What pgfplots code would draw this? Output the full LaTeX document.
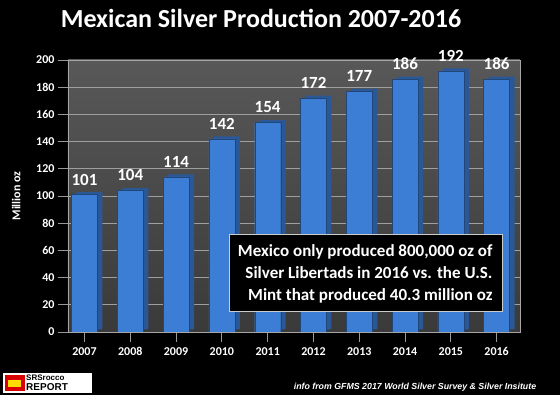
\documentclass[border=0pt]{standalone}
\usepackage{pgfplots}
\pgfplotsset{compat=1.18}
\usepackage{fontspec}
\setmainfont{Carlito}
\newfontfamily\arialfont{Liberation Sans}
\definecolor{barfront}{HTML}{3C7DD6}
\definecolor{barside}{HTML}{2A5896}
\definecolor{walltop}{HTML}{585858}
\definecolor{wallbot}{HTML}{3A3A3A}
\begin{document}
\begin{tikzpicture}[x=1pt,y=1pt]
\fill[black] (-68,-63) rectangle (492,332);
\begin{axis}[
  at={(0,0)}, anchor=south west,
  scale only axis,
  width=452pt, height=272pt,
  xmin=-0.36, xmax=9.51,
  ymin=0, ymax=200,
  ytick={0,20,...,200},
  xtick={0,...,9},
  xticklabels={2007,2008,2009,2010,2011,2012,2013,2014,2015,2016},
  /pgf/number format/assume math mode=true,
  axis background/.style={top color=walltop, bottom color=wallbot},
  axis line style={gray!70},
  tick style={gray!80, line width=0.8pt},
  major tick length=10pt,
  tick align=outside,
  ytick pos=left, xtick pos=bottom,
  ymajorgrids, grid style={gray!75, line width=0.9pt},
  ticklabel style={white, font=\bfseries\fontsize{12}{13}\selectfont},
  xticklabel style={anchor=north, yshift=-2pt},
  ylabel={Million oz},
  ylabel style={white, font=\bfseries\fontsize{12}{13}\selectfont, yshift=9pt},
  ybar, bar width=26pt,
]
\addplot[draw=none, fill=barside, bar shift=5pt, yshift=2.5pt] coordinates {
(0,101) (1,104) (2,114) (3,142) (4,154) (5,172) (6,177) (7,186) (8,192) (9,186)};
\addplot[draw=barside!80!black, line width=0.3pt, fill=barfront, bar shift=0pt,
  nodes near coords,
  every node near coord/.append style={white, font=\bfseries\fontsize{17}{18}\selectfont, yshift=6pt}] coordinates {
(0,101) (1,104) (2,114) (3,142) (4,154) (5,172) (6,177) (7,186) (8,192) (9,186)};
\end{axis}
% title
\node[white, font=\bfseries\fontsize{26}{28}\selectfont] at (193,314) {Mexican Silver Production 2007-2016};
% annotation box
\draw[fill=black, draw=gray!40, line width=1pt] (161,20) rectangle (434,97);
\node[white, anchor=east, align=right, font=\bfseries\fontsize{17}{22}\selectfont] at (428,58.5)
  {Mexico only produced 800,000 oz of\\Silver Libertads in 2016 vs. the U.S.\\Mint that produced 40.3 million oz};
% footer
\node[white, font=\arialfont\bfseries\itshape\fontsize{8.8}{10}\selectfont] at (347,-55) {info from GFMS 2017 World Silver Survey \& Silver Insitute};
% logo
\fill[white] (-65,-61) rectangle (24,-41);
\fill[red!85!black] (-63,-59) rectangle (-43,-43);
\fill[yellow!80!orange] (-60,-55) rectangle (-47,-48);
\node[anchor=west, inner sep=0pt, font=\arialfont\bfseries\fontsize{8}{8}\selectfont] at (-42,-46) {SRSrocco};
\node[anchor=west, inner sep=0pt, font=\arialfont\bfseries\fontsize{10}{10}\selectfont] at (-42,-55.5) {REPORT};
\end{tikzpicture}
\end{document}
